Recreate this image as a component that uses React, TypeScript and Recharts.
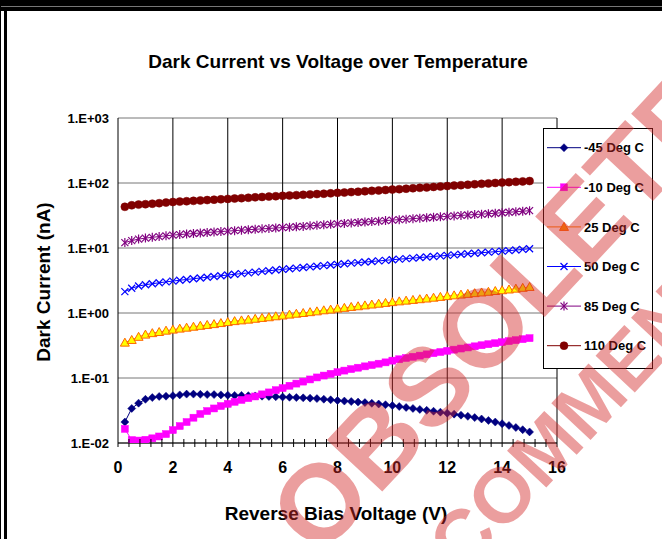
import React from 'react';
import { LineChart, Line, XAxis, YAxis, CartesianGrid, Legend } from 'recharts';

// reverse bias voltage (V)
const voltage = [
  0.25, 0.5, 0.75, 1, 1.25, 1.5, 1.75, 2, 2.25, 2.5, 2.75, 3, 3.25, 3.5, 3.75, 4,
  4.25, 4.5, 4.75, 5, 5.25, 5.5, 5.75, 6, 6.25, 6.5, 6.75, 7, 7.25, 7.5, 7.75, 8,
  8.25, 8.5, 8.75, 9, 9.25, 9.5, 9.75, 10, 10.25, 10.5, 10.75, 11, 11.25, 11.5, 11.75, 12,
  12.25, 12.5, 12.75, 13, 13.25, 13.5, 13.75, 14, 14.25, 14.5, 14.75, 15
];

// dark current (nA) per temperature
const minus45 = [
  0.021, 0.034, 0.041, 0.047, 0.05, 0.052, 0.0525, 0.0535, 0.055, 0.0565, 0.0565, 0.056, 0.0555, 0.0555, 0.055, 0.0545,
  0.054, 0.054, 0.0535, 0.053, 0.0525, 0.052, 0.0515, 0.051, 0.0505, 0.05, 0.0495, 0.049, 0.0482, 0.0472, 0.0462, 0.045,
  0.0442, 0.0434, 0.0426, 0.0418, 0.0408, 0.0398, 0.0388, 0.0376, 0.0364, 0.0352, 0.034, 0.0328, 0.0318, 0.0308, 0.0298, 0.0288,
  0.0278, 0.0268, 0.0257, 0.0246, 0.0234, 0.0222, 0.021, 0.0198, 0.0186, 0.0173, 0.016, 0.0148
];
const minus10 = [
  0.0165, 0.0111, 0.0109, 0.0112, 0.0118, 0.0126, 0.0137, 0.0158, 0.0182, 0.021, 0.0245, 0.028, 0.031, 0.034, 0.037, 0.04,
  0.043, 0.046, 0.049, 0.052, 0.056, 0.06, 0.065, 0.07, 0.076, 0.082, 0.088, 0.095, 0.102, 0.109, 0.116, 0.123,
  0.13, 0.137, 0.144, 0.151, 0.158, 0.166, 0.174, 0.185, 0.194, 0.203, 0.212, 0.221, 0.231, 0.241, 0.251, 0.262,
  0.273, 0.284, 0.295, 0.307, 0.319, 0.331, 0.343, 0.356, 0.369, 0.382, 0.396, 0.41
];
const plus25 = [
  0.35, 0.385, 0.43, 0.465, 0.49, 0.51, 0.535, 0.555, 0.575, 0.595, 0.615, 0.635, 0.655, 0.675, 0.7, 0.725,
  0.75, 0.77, 0.79, 0.815, 0.84, 0.86, 0.89, 0.915, 0.945, 0.975, 1.0, 1.03, 1.06, 1.1, 1.13, 1.17,
  1.2, 1.24, 1.27, 1.31, 1.35, 1.39, 1.43, 1.47, 1.51, 1.55, 1.59, 1.63, 1.67, 1.72, 1.77, 1.82,
  1.87, 1.92, 1.97, 2.02, 2.07, 2.12, 2.18, 2.24, 2.3, 2.37, 2.44, 2.52
];
const plus50 = [
  2.13, 2.4, 2.6, 2.72, 2.82, 2.92, 3.01, 3.1, 3.19, 3.28, 3.37, 3.46, 3.55, 3.64, 3.74, 3.84,
  3.94, 4.04, 4.14, 4.25, 4.36, 4.47, 4.58, 4.69, 4.8, 4.91, 5.02, 5.13, 5.24, 5.36, 5.48, 5.6,
  5.72, 5.84, 5.96, 6.08, 6.2, 6.33, 6.46, 6.6, 6.73, 6.86, 6.99, 7.13, 7.27, 7.41, 7.55, 7.7,
  7.85, 8.0, 8.15, 8.3, 8.46, 8.62, 8.78, 8.95, 9.12, 9.3, 9.5, 9.75
];
const plus85 = [
  12.1, 13.0, 13.7, 14.2, 14.6, 15.0, 15.4, 15.8, 16.1, 16.4, 16.7, 17.0, 17.3, 17.6, 17.9, 18.2,
  18.5, 18.8, 19.1, 19.4, 19.7, 20.0, 20.3, 20.6, 20.9, 21.2, 21.5, 21.9, 22.3, 22.7, 23.1, 23.5,
  23.9, 24.3, 24.7, 25.1, 25.5, 25.9, 26.4, 26.9, 27.3, 27.8, 28.3, 28.8, 29.2, 29.7, 30.2, 30.7,
  31.2, 31.7, 32.2, 32.7, 33.2, 33.7, 34.3, 34.9, 35.5, 36.1, 36.8, 37.5
];
const plus110 = [
  43.0, 45.4, 46.5, 47.2, 48.0, 48.9, 50.0, 51.0, 51.7, 52.4, 53.1, 53.9, 54.6, 55.4, 56.1, 56.9,
  57.7, 58.5, 59.3, 60.2, 61.0, 61.8, 62.6, 63.4, 64.2, 65.0, 65.8, 66.7, 67.5, 68.4, 69.3, 70.5,
  71.3, 72.4, 73.5, 74.6, 75.7, 76.8, 78.0, 79.2, 80.4, 81.7, 83.0, 84.3, 85.6, 87.0, 88.4, 89.8,
  91.2, 92.6, 94.1, 95.6, 97.1, 98.6, 100.1, 101.6, 103.0, 104.4, 105.8, 107.2
];

const yTicks = [0.01, 0.1, 1, 10, 100, 1000];
const yTickLabels = ['1.E-02', '1.E-01', '1.E+00', '1.E+01', '1.E+02', '1.E+03'];
const xTicks = [
  0, 0.4, 0.8, 1.2, 1.6, 2, 2.4, 2.8, 3.2, 3.6, 4, 4.4, 4.8, 5.2, 5.6, 6, 6.4, 6.8, 7.2, 7.6, 8,
  8.4, 8.8, 9.2, 9.6, 10, 10.4, 10.8, 11.2, 11.6, 12, 12.4, 12.8, 13.2, 13.6, 14, 14.4, 14.8, 15.2, 15.6, 16
];
const xLabels = [0, 2, 4, 6, 8, 10, 12, 14, 16];
const xGrid = [2, 4, 6, 8, 10, 12, 14, 16];

const data = voltage.map((v, i) => ({
  v,
  m45: minus45[i],
  m10: minus10[i],
  p25: plus25[i],
  p50: plus50[i],
  p85: plus85[i],
  p110: plus110[i]
}));

type Shape = 'diamond' | 'square' | 'triangle' | 'cross' | 'star' | 'circle';

const series: { key: string; name: string; line: string; shape: Shape; fill: string; stroke: string; legendFill?: string }[] = [
  { key: 'm45', name: '-45 Deg C', line: '#000080', shape: 'diamond', fill: '#000080', stroke: '#000080' },
  { key: 'm10', name: '-10 Deg C', line: '#FF00FF', shape: 'square', fill: '#FF00FF', stroke: '#FF00FF' },
  { key: 'p25', name: '25 Deg C', line: '#FF8000', shape: 'triangle', fill: '#FFFF00', stroke: '#FF6600', legendFill: '#FF9900' },
  { key: 'p50', name: '50 Deg C', line: '#0000FF', shape: 'cross', fill: 'none', stroke: '#0000FF' },
  { key: 'p85', name: '85 Deg C', line: '#800080', shape: 'star', fill: 'none', stroke: '#800080' },
  { key: 'p110', name: '110 Deg C', line: '#800000', shape: 'circle', fill: '#800000', stroke: '#800000' }
];

const FONT = '"Liberation Sans", Arial, sans-serif';

function Marker({ shape, cx, cy, fill, stroke }: { shape: Shape; cx: number; cy: number; fill: string; stroke: string }) {
  if (cx == null || cy == null) return null;
  switch (shape) {
    case 'diamond':
      return <polygon points={`${cx},${cy - 4} ${cx + 4},${cy} ${cx},${cy + 4} ${cx - 4},${cy}`} fill={fill} stroke={stroke} strokeWidth={0.5} />;
    case 'square':
      return <rect x={cx - 3.5} y={cy - 3.5} width={7} height={7} fill={fill} stroke={stroke} strokeWidth={0.5} />;
    case 'triangle':
      return <polygon points={`${cx},${cy - 4.5} ${cx + 4.5},${cy + 3.5} ${cx - 4.5},${cy + 3.5}`} fill={fill} stroke={stroke} strokeWidth={1} />;
    case 'cross':
      return (
        <g stroke={stroke} strokeWidth={1.2}>
          <line x1={cx - 3.5} y1={cy - 3.5} x2={cx + 3.5} y2={cy + 3.5} />
          <line x1={cx - 3.5} y1={cy + 3.5} x2={cx + 3.5} y2={cy - 3.5} />
        </g>
      );
    case 'star':
      return (
        <g stroke={stroke} strokeWidth={1.2}>
          <line x1={cx - 3.5} y1={cy - 3.5} x2={cx + 3.5} y2={cy + 3.5} />
          <line x1={cx - 3.5} y1={cy + 3.5} x2={cx + 3.5} y2={cy - 3.5} />
          <line x1={cx} y1={cy - 4.5} x2={cx} y2={cy + 4.5} />
        </g>
      );
    default:
      return <circle cx={cx} cy={cy} r={4} fill={fill} stroke={stroke} strokeWidth={0.5} />;
  }
}

const XTick = ({ x, y, payload }: any) => {
  const major = xLabels.includes(payload.value);
  return (
    <g>
      <line x1={x} x2={x} y1={major ? y : y - 4} y2={y + 4} stroke="#000" />
      {major && (
        <text x={x} y={y + 30} textAnchor="middle" fontSize={16} fontWeight="bold" fontFamily={FONT} fill="#000">
          {payload.value}
        </text>
      )}
    </g>
  );
};

const YTick = ({ x, y, payload }: any) => (
  <text x={x - 9} y={y + 4.6} textAnchor="end" fontSize={13} fontWeight="bold" fontFamily={FONT} fill="#000">
    {yTickLabels[yTicks.indexOf(payload.value)]}
  </text>
);

const renderLegend = () => (
  <div style={{ width: 110, height: 241, background: '#fff', border: '1px solid #000', boxSizing: 'border-box' }}>
    <svg width={108} height={239} style={{ display: 'block' }}>
      {series.map((s, i) => (
        <g key={s.key} transform={`translate(0, ${18.7 + i * 39.6})`}>
          <line x1={3} x2={37} y1={0} y2={0} stroke={s.line} />
          <Marker shape={s.shape} cx={20} cy={0} fill={s.legendFill || s.fill} stroke={s.stroke} />
          <text x={40} y={4.6} fontSize={13} fontWeight="bold" fontFamily={FONT} fill="#000">
            {s.name}
          </text>
        </g>
      ))}
    </svg>
  </div>
);

export default function App() {
  return (
    <div style={{ position: 'absolute', left: 0, top: 0, width: 662, height: 539, background: '#fff', overflow: 'hidden', fontFamily: FONT }}>
      {/* frame */}
      <div style={{ position: 'absolute', left: 0, top: 0, width: 662, height: 11, background: '#000' }} />
      <div style={{ position: 'absolute', left: 0, top: 6, width: 662, height: 1, background: '#777' }} />
      <div style={{ position: 'absolute', left: 0, top: 0, width: 1, height: 539, background: '#000' }} />
      <div style={{ position: 'absolute', left: 4, top: 11, width: 3, height: 528, background: '#000' }} />

      <div style={{ position: 'absolute', left: 38, top: 52, width: 600, lineHeight: '20px', fontSize: 19, fontWeight: 'bold', textAlign: 'center' }}>
        Dark Current vs Voltage over Temperature
      </div>
      <div style={{ position: 'absolute', left: 36, top: 504, width: 600, lineHeight: '20px', fontSize: 19, fontWeight: 'bold', textAlign: 'center' }}>
        Reverse Bias Voltage (V)
      </div>
      <div style={{ position: 'absolute', left: -106, top: 272, width: 300, height: 20, lineHeight: '20px', fontSize: 19, fontWeight: 'bold', textAlign: 'center', transform: 'rotate(-90deg)' }}>
        Dark Current (nA)
      </div>

      <div style={{ position: 'absolute', left: 0, top: 0 }}>
        <LineChart width={662} height={539} data={data} margin={{ top: 118, right: 105, left: 58, bottom: 56 }}>
          <CartesianGrid vertical={false} stroke="#777" />
          <CartesianGrid horizontal={false} verticalValues={xGrid} stroke="#000" />
          <XAxis
            type="number"
            dataKey="v"
            domain={[0, 16]}
            ticks={xTicks}
            interval={0}
            height={40}
            tickLine={false}
            tickSize={0}
            tickMargin={0}
            axisLine={{ stroke: '#000' }}
            tick={<XTick />}
          />
          <YAxis
            type="number"
            scale="log"
            domain={[0.01, 1000]}
            allowDataOverflow
            ticks={yTicks}
            interval={0}
            width={60}
            tickLine={false}
            tickSize={0}
            tickMargin={0}
            axisLine={{ stroke: '#000' }}
            tick={<YTick />}
          />
          <Legend
            layout="vertical"
            align="center"
            verticalAlign="middle"
            content={renderLegend}
            wrapperStyle={{ left: 543, top: 128, width: 110, height: 241 }}
          />
          {series.map((s) => (
            <Line
              key={s.key}
              type="linear"
              dataKey={s.key}
              name={s.name}
              stroke={s.line}
              strokeWidth={1}
              activeDot={false}
              isAnimationActive={false}
              dot={(p: any) => <Marker key={`${s.key}-${p.index}`} shape={s.shape} cx={p.cx} cy={p.cy} fill={s.fill} stroke={s.stroke} />}
            />
          ))}
        </LineChart>
      </div>

      {/* watermark */}
      <svg width={662} height={539} style={{ position: 'absolute', left: 0, top: 0, pointerEvents: 'none' }}>
        <text
          transform="translate(497 312) rotate(-47)"
          textAnchor="middle"
          dominantBaseline="central"
          fontSize={110}
          fontWeight="bold"
          fontFamily={FONT}
          fill="rgba(210,40,40,0.45)"
        >
          OBSOLETE
        </text>
        <text
          transform="translate(520 476) rotate(-47)"
          textAnchor="middle"
          dominantBaseline="central"
          fontSize={78}
          fontWeight="bold"
          fontFamily={FONT}
          fill="rgba(210,40,40,0.45)"
        >
          NOT RECOMMENDED
        </text>
      </svg>
    </div>
  );
}
